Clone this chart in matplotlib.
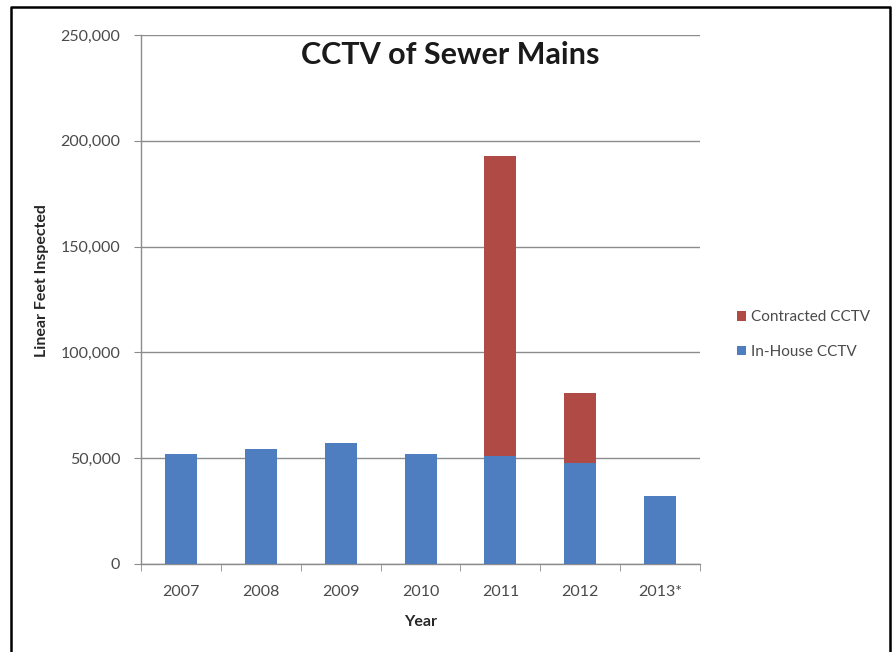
import matplotlib
matplotlib.use("Agg")
import matplotlib.pyplot as plt
from matplotlib.ticker import FuncFormatter, FixedLocator
from matplotlib.patches import Patch
from matplotlib.lines import Line2D
import numpy as np

plt.rcParams['font.family'] = ['Lato', 'DejaVu Sans']

years = ["2007", "2008", "2009", "2010", "2011", "2012", "2013*"]
in_house = [52000, 54500, 57000, 52000, 51000, 47500, 32000]
contracted = [0, 0, 0, 0, 142000, 33500, 0]
y_ticks = [0, 50000, 100000, 150000, 200000, 250000]

blue = "#4f7ec0"
red = "#b04a45"
grid_gray = "#8c8c8c"
text_gray = "#4a4a4a"

fig = plt.figure(figsize=(8.96, 6.52), dpi=100)
ax = fig.add_axes([0.1574, 0.135, 0.6239, 0.8113])

x = np.arange(len(years))
ax.bar(x, in_house, width=0.4, color=blue, zorder=3, label="In-House CCTV")
ax.bar(x, contracted, width=0.4, bottom=in_house, color=red, zorder=3,
       label="Contracted CCTV")

ax.set_xlim(-0.5, len(years) - 0.5)
ax.set_ylim(0, 250000)
ax.yaxis.set_major_locator(FixedLocator(y_ticks))
ax.yaxis.set_major_formatter(FuncFormatter(lambda v, p: f"{int(v):,}"))
ax.grid(axis="y", color=grid_gray, linewidth=1.0, zorder=0)

ax.set_xticks(x)
ax.set_xticklabels(years)
ax.set_xticks(np.arange(-0.5, len(years)), minor=True)
ax.tick_params(axis="x", which="major", length=0, pad=15, labelsize=11.5,
               labelcolor=text_gray)
ax.tick_params(axis="x", which="minor", length=5, color=grid_gray,
               direction="out")
ax.tick_params(axis="y", length=5, color=grid_gray, labelsize=11.5,
               labelcolor=text_gray, pad=10)

for side in ("top", "right"):
    ax.spines[side].set_visible(False)
for side in ("left", "bottom"):
    ax.spines[side].set_color(grid_gray)
    ax.spines[side].set_linewidth(1.0)

ax.set_xlabel("Year", fontsize=11.5, fontweight="bold", color="#262626",
              labelpad=12)
ax.set_ylabel("Linear Feet Inspected", fontsize=11.5, fontweight="bold",
              color="#262626")
ax.yaxis.set_label_coords(-0.165, 0.535)

ax.text(0.553, 0.962, "CCTV of Sewer Mains", transform=ax.transAxes,
        ha="center", va="center", fontsize=22, fontweight="bold",
        color="#1a1a1a")

handles = [Patch(facecolor=red, label="Contracted CCTV"),
           Patch(facecolor=blue, label="In-House CCTV")]
fig.legend(handles=handles, loc="center left",
           bbox_to_anchor=(0.807, 0.487), frameon=False, fontsize=11,
           handlelength=0.6, handleheight=0.6, handletextpad=0.35,
           labelspacing=1.35, labelcolor=text_gray)

# outer frame around the chart
fig.add_artist(Line2D([0.0128, 0.0128, 0.9933, 0.9933],
                      [0.0, 0.9893, 0.9893, 0.0],
                      transform=fig.transFigure, color="black",
                      linewidth=1.8))

fig.savefig("out.png", dpi=100, facecolor="white")
